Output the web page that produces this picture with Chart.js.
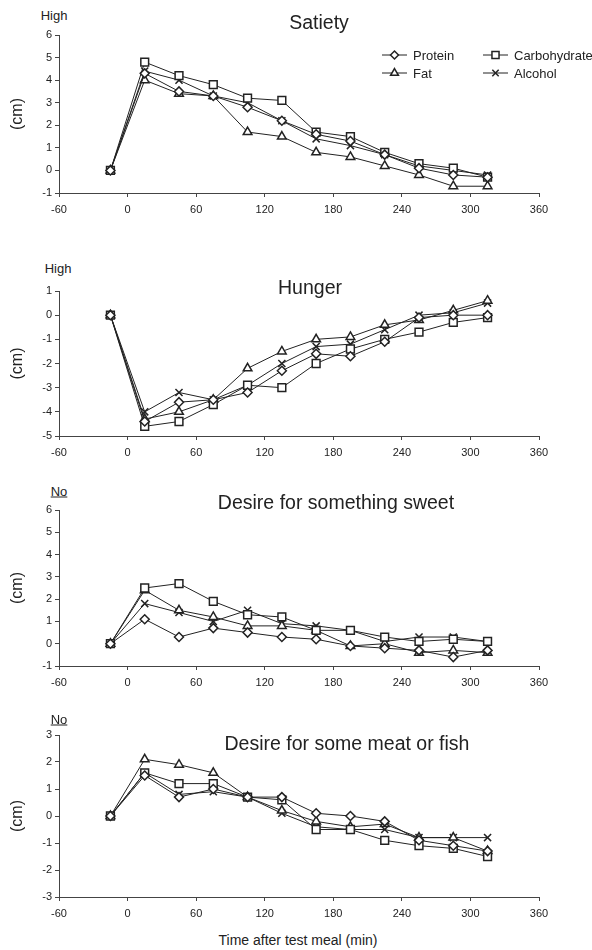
<!DOCTYPE html>
<html>
<head>
<meta charset="utf-8">
<script src="https://cdn.jsdelivr.net/npm/chart.js@4.4.1/dist/chart.umd.min.js"></script>
<style>
	body { margin: 0; background: #fff; }
	#wrap { position: relative; width: 592px; height: 950px; background: #fff; font-family: "Liberation Sans", Arial, sans-serif; color: #222; }
	#wrap canvas { position: absolute; left: 0; }
	.txt { position: absolute; white-space: nowrap; transform: translate(-50%, -50%); }
	.ttl { font-size: 19.5px; }
	.lvl { font-size: 13px; }
	.u { text-decoration: underline; }
</style>
</head>
<body>
<div id="wrap">
	<canvas id="c1"></canvas>
	<canvas id="c2"></canvas>
	<canvas id="c3"></canvas>
	<canvas id="c4"></canvas>

	<div class="txt lvl" style="left:54px;top:15px">High</div>
	<div class="txt ttl" style="left:319px;top:22px">Satiety</div>

	<div class="txt lvl" style="left:58px;top:268px">High</div>
	<div class="txt ttl" style="left:310px;top:287px">Hunger</div>

	<div class="txt lvl u" style="left:59px;top:491px">No</div>
	<div class="txt ttl" style="left:336px;top:502px">Desire for something sweet</div>

	<div class="txt lvl u" style="left:59px;top:719px">No</div>
	<div class="txt ttl" style="left:347px;top:743px">Desire for some meat or fish</div>

	<div class="txt" style="left:298px;top:940px;font-size:14px">Time after test meal (min)</div>
</div>
<script>
// time points (min after test meal)
var times = [-15, 15, 45, 75, 105, 135, 165, 195, 225, 255, 285, 315];
var xTicks = [-60, 0, 60, 120, 180, 240, 300, 360];
var seriesNames = ["Protein", "Carbohydrate", "Fat", "Alcohol"];

// Satiety
var satietyProtein = [0, 4.3, 3.5, 3.3, 2.8, 2.2, 1.6, 1.3, 0.7, 0.1, -0.2, -0.3];
var satietyCarb    = [0, 4.8, 4.2, 3.8, 3.2, 3.1, 1.7, 1.5, 0.8, 0.3, 0.1, -0.3];
var satietyFat     = [0, 4.0, 3.4, 3.3, 1.7, 1.5, 0.8, 0.6, 0.2, -0.2, -0.7, -0.7];
var satietyAlcohol = [0, 4.4, 4.0, 3.3, 3.0, 2.2, 1.4, 1.1, 0.7, 0.2, 0.0, -0.2];

// Hunger
var hungerProtein = [0, -4.4, -3.6, -3.5, -3.2, -2.3, -1.6, -1.7, -1.1, -0.1, 0.0, 0.0];
var hungerCarb    = [0, -4.6, -4.4, -3.7, -2.9, -3.0, -2.0, -1.4, -1.0, -0.7, -0.3, -0.1];
var hungerFat     = [0, -4.3, -4.0, -3.5, -2.2, -1.5, -1.0, -0.9, -0.4, -0.2, 0.2, 0.6];
var hungerAlcohol = [0, -4.0, -3.2, -3.5, -2.9, -2.0, -1.3, -1.2, -0.6, 0.0, 0.1, 0.5];

// Desire for something sweet
var sweetProtein = [0, 1.1, 0.3, 0.7, 0.5, 0.3, 0.2, -0.1, -0.2, -0.3, -0.6, -0.3];
var sweetCarb    = [0, 2.5, 2.7, 1.9, 1.3, 1.2, 0.6, 0.6, 0.3, 0.1, 0.2, 0.1];
var sweetFat     = [0, 2.4, 1.5, 1.2, 0.8, 0.8, 0.6, -0.1, 0.0, -0.4, -0.3, -0.4];
var sweetAlcohol = [0, 1.8, 1.4, 1.0, 1.5, 0.9, 0.8, 0.6, 0.1, 0.3, 0.3, 0.1];

// Desire for some meat or fish
var meatProtein = [0, 1.5, 0.7, 1.0, 0.7, 0.7, 0.1, 0.0, -0.2, -0.9, -1.1, -1.3];
var meatCarb    = [0, 1.6, 1.2, 1.2, 0.7, 0.6, -0.5, -0.5, -0.9, -1.1, -1.2, -1.5];
var meatFat     = [0, 2.1, 1.9, 1.6, 0.7, 0.2, -0.2, -0.4, -0.3, -0.8, -0.8, -1.3];
var meatAlcohol = [0, 1.6, 0.8, 0.9, 0.7, 0.1, -0.4, -0.5, -0.5, -0.8, -0.8, -0.8];

var ink = "#222";
var markers = [
	{ style: "rectRot", radius: 4.5 },
	{ style: "rect", radius: 5.5 },
	{ style: "triangle", radius: 5 },
	{ style: "crossRot", radius: 5 }
];

function makeSets(lists) {
	var sets = [];
	for (var s = 0; s < lists.length; s++) {
		var pts = [];
		for (var i = 0; i < times.length; i++) {
			pts.push({ x: times[i], y: lists[s][i] });
		}
		sets.push({
			label: seriesNames[s],
			data: pts,
			borderColor: ink,
			borderWidth: 1,
			backgroundColor: "#fff",
			pointStyle: markers[s].style,
			pointRadius: markers[s].radius,
			pointBorderColor: ink,
			pointBackgroundColor: "#fff",
			pointBorderWidth: 1.5,
			tension: 0,
			clip: false
		});
	}
	return sets;
}

// legend drawn inside the first panel, two columns
var cornerLegend = {
	id: "cornerLegend",
	afterDraw: function(chart) {
		var c = chart.ctx;
		var off = chart.canvas.offsetTop;
		var spots = [
			{ x: 382, y: 55 - off },
			{ x: 483, y: 55 - off },
			{ x: 382, y: 73 - off },
			{ x: 483, y: 73 - off }
		];
		c.save();
		c.font = "13px 'Liberation Sans', Arial, sans-serif";
		c.textBaseline = "middle";
		for (var i = 0; i < 4; i++) {
			var p = spots[i];
			c.strokeStyle = ink;
			c.lineWidth = 1;
			c.beginPath();
			c.moveTo(p.x, p.y);
			c.lineTo(p.x + 25, p.y);
			c.stroke();
			c.fillStyle = "#fff";
			c.lineWidth = 1.5;
			Chart.helpers.drawPoint(c, { pointStyle: markers[i].style, radius: markers[i].radius - 0.5, borderWidth: 1.5 }, p.x + 12.5, p.y);
			c.fillStyle = ink;
			c.fillText(seriesNames[i], p.x + 31, p.y + 1);
		}
		c.restore();
	}
};

function panel(id, top, bottom, yMin, yMax, lists, withLegend) {
	var cv = document.getElementById(id);
	var padTop = 10;
	var h = (bottom - top) + padTop + 30;
	cv.style.top = (top - padTop) + "px";
	cv.style.width = "592px";
	cv.style.height = h + "px";
	cv.width = 592;
	cv.height = h;

	return new Chart(cv, {
		type: "line",
		data: { datasets: makeSets(lists) },
		plugins: withLegend ? [cornerLegend] : [],
		options: {
			responsive: false,
			animation: false,
			devicePixelRatio: 1,
			layout: { padding: { top: padTop, left: 0, right: 53, bottom: 0 } },
			plugins: { legend: { display: false }, tooltip: { enabled: false }, title: { display: false } },
			scales: {
				x: {
					type: "linear",
					min: -60,
					max: 360,
					afterBuildTicks: function(scale) {
						scale.ticks = xTicks.map(function(v) { return { value: v }; });
					},
					afterFit: function(scale) { scale.height = 30; },
					grid: { display: true, drawOnChartArea: false, tickLength: 4, color: "#444" },
					border: { display: true, color: "#444", width: 1 },
					ticks: { color: ink, padding: 6, maxRotation: 0, font: { family: "'Liberation Sans', Arial, sans-serif", size: 11 } }
				},
				y: {
					min: yMin,
					max: yMax,
					afterFit: function(scale) { scale.width = 59; },
					grid: { display: true, drawOnChartArea: false, tickLength: 4, color: "#444" },
					border: { display: true, color: "#444", width: 1 },
					ticks: { stepSize: 1, color: ink, padding: 3, font: { family: "'Liberation Sans', Arial, sans-serif", size: 11 } },
					title: { display: true, text: "(cm)", color: ink, padding: { top: 8, bottom: 4 }, font: { family: "'Liberation Sans', Arial, sans-serif", size: 16 } }
				}
			}
		}
	});
}

panel("c1", 35, 193, -1, 6, [satietyProtein, satietyCarb, satietyFat, satietyAlcohol], true);
panel("c2", 291, 436, -5, 1, [hungerProtein, hungerCarb, hungerFat, hungerAlcohol], false);
panel("c3", 510, 666, -1, 6, [sweetProtein, sweetCarb, sweetFat, sweetAlcohol], false);
panel("c4", 735, 897, -3, 3, [meatProtein, meatCarb, meatFat, meatAlcohol], false);
</script>
</body>
</html>
